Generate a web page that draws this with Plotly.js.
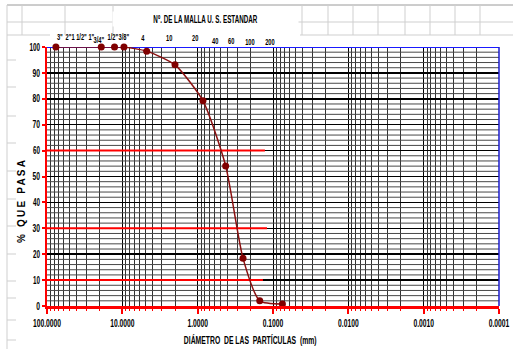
<!DOCTYPE html>
<html>
<head>
<meta charset="utf-8">
<script src="https://cdn.plot.ly/plotly-3.0.1.min.js"></script>
<style>html,body{margin:0;padding:0;background:#fff;}#chart{width:513px;height:349px;}</style>
</head>
<body>
<div id="chart"></div>
<script>
// Data: sieve openings (mm) and percent passing
var sieves = ['3"', '3/4"', '1/2"', '3/8"', 'N°4', 'N°10', 'N°20', 'N°40', 'N°60', 'N°100', 'N°200'];
var diameters = [76.2, 19.05, 12.7, 9.525, 4.75, 2.0, 0.85, 0.425, 0.25, 0.15, 0.075];
var percentPassing = [100, 100, 100, 100, 98.4, 93.1, 79.2, 54.1, 18.4, 2.0, 0.8];

// Reference lines (% passing) and their extents (mm)
var refLevels = [60, 30, 10];
var refEnds = [0.128, 0.120, 0.136];
var refStart = 100;

// Axis ticks
var xTickVals = [100, 10, 1, 0.1, 0.01, 0.001, 0.0001];
var xTickText = ['100.0000', '10.0000', '1.0000', '0.1000', '0.0100', '0.0010', '0.0001'];

// Sieve number labels on top
var topLabels = ['3"', '2"1 1/2" 1"', '3/4"', '1/2"', '3/8"', '4', '10', '20', '40', '60', '100', '200'];

var FONT = 'Liberation Sans, Arial, sans-serif';

// minor grid values
var minorX = [];
for (var e = -4; e < 2; e++) {
  for (var m = 2; m <= 9; m++) minorX.push(m * Math.pow(10, e));
}
var minorY = [];
for (var k = 1; k < 50; k++) { if (k % 5 !== 0) minorY.push(2 * k); }

var W = 513, H = 349, L = 47, R = 14, T = 47, B = 43;
var PW = W - L - R, PH = H - T - B;
function px(x) { return (x - L) / PW; }
function py(y) { return (H - B - y) / PH; }

var traces = [];
// minor horizontal grid (every 2 %), one line each
minorY.forEach(function (yv) {
  traces.push({x: [100, 0.0001], y: [yv, yv], mode: 'lines', type: 'scatter',
               line: {color: '#484848', width: 1}, hoverinfo: 'skip', showlegend: false});
});

refLevels.forEach(function (lv, i) {
  traces.push({
    x: [refStart, refEnds[i]], y: [lv, lv], mode: 'lines', type: 'scatter',
    line: {color: '#ff0000', width: 2}, hoverinfo: 'skip', showlegend: false, cliponaxis: false
  });
});
traces.push({
  x: [100, 0.0001], y: [100, 100], mode: 'lines', type: 'scatter',
  line: {color: '#1a1aff', width: 2}, hoverinfo: 'skip', showlegend: false, cliponaxis: false
});
traces.push({
  x: diameters, y: percentPassing, text: sieves, mode: 'lines+markers', type: 'scatter',
  line: {color: '#8b1010', width: 1.5, shape: 'spline', smoothing: 0.6},
  marker: {color: '#800000', size: 7, symbol: 'circle'},
  showlegend: false, cliponaxis: false
});

// top labels positions in pixels (annotation placement)
var labelPx = [60, 80, 99, 113, 124, 143, 169, 195, 215, 231, 250, 270];
var labelPy = [36, 36, 39, 36, 36, 37, 37, 37, 40.5, 40.5, 41.5, 41.5];

var annotations = [];
topLabels.forEach(function (t, i) {
  annotations.push({
    text: t, xref: 'paper', yref: 'paper', x: px(labelPx[i]), y: py(labelPy[i]),
    showarrow: false, xanchor: 'center', yanchor: 'middle',
    font: {family: FONT, size: 9.5, color: '#000', weight: 'bold'}
  });
});
annotations.push({
  text: 'Nº. DE LA MALLA U. S. ESTANDAR', xref: 'paper', yref: 'paper',
  x: px(205), y: py(19), showarrow: false, xanchor: 'center', yanchor: 'middle',
  bgcolor: '#ffffff',
  font: {family: FONT, size: 11, color: '#000', weight: 'bold'}
});
annotations.push({
  text: '% QUE PASA', xref: 'paper', yref: 'paper', x: px(22), y: py(201),
  textangle: -90, showarrow: false, xanchor: 'center', yanchor: 'middle',
  font: {family: FONT, size: 10, color: '#000', weight: 'bold'}
});
annotations.push({
  text: 'DIÁMETRO  DE LAS  PARTÍCULAS  (mm)', xref: 'paper', yref: 'paper', x: px(250), y: py(340),
  showarrow: false, xanchor: 'center', yanchor: 'middle',
  font: {family: FONT, size: 11, color: '#000', weight: 'bold'}
});

// spreadsheet-like background lines
var shapes = [];
var sheetCol = '#cfcfcf';
function hline(y, x0, x1) { shapes.push({type: 'line', xref: 'paper', yref: 'paper', x0: px(x0), x1: px(x1), y0: py(y), y1: py(y), line: {color: sheetCol, width: 1}, layer: 'below'}); }
function vline(x, y0, y1) { shapes.push({type: 'line', xref: 'paper', yref: 'paper', x0: px(x), x1: px(x), y0: py(y0), y1: py(y1), line: {color: sheetCol, width: 1}, layer: 'below'}); }
shapes.push({type: 'line', xref: 'paper', yref: 'paper', x0: px(7), x1: px(513), y0: py(5), y1: py(5), line: {color: '#9a9a9a', width: 1}, layer: 'below'});
vline(7, 5, 349);
hline(22, 7, 150); hline(22, 262, 513);
hline(35, 7, 50); hline(35, 300, 513);
[22, 65, 113, 302, 328, 353, 378, 405, 430, 455, 480].forEach(function (x) { vline(x, 5, 35); });
[60, 87, 116, 143, 171, 199, 226, 254, 281, 298, 320, 340].forEach(function (y) { hline(y, 7, 16); });
// right border of plot (blue)
shapes.push({type: 'line', xref: 'paper', yref: 'paper', x0: 1, x1: 1, y0: 0, y1: 1, line: {color: '#1a1acc', width: 1.5}});

var layout = {
  width: W, height: H,
  margin: {l: L, r: R, t: T, b: B, pad: 0},
  paper_bgcolor: '#ffffff', plot_bgcolor: 'rgba(0,0,0,0)',
  showlegend: false,
  xaxis: {
    type: 'log', range: [2.0002, -4.0002], autorange: false,
    tickmode: 'array', tickvals: xTickVals, ticktext: xTickText,
    ticks: 'outside', ticklen: 5, tickwidth: 2, tickcolor: '#ff0000',
    ticklabeloverflow: 'allow',
    showgrid: true, gridcolor: '#000000', gridwidth: 1,
    showline: true, linecolor: '#ff0000', linewidth: 3,
    zeroline: false,
    tickfont: {family: FONT, size: 10.5, color: '#000', weight: 'bold'},
    minor: {tickmode: 'array', tickvals: minorX, showgrid: true, gridcolor: '#333333', gridwidth: 1,
            ticks: 'outside', ticklen: 2, tickcolor: '#ff0000', tickwidth: 1}
  },
  yaxis: {
    range: [0, 100], autorange: false,
    tickmode: 'linear', tick0: 0, dtick: 10,
    ticks: 'outside', ticklen: 3, tickwidth: 2, tickcolor: '#ff0000',
    ticklabeloverflow: 'allow',
    showgrid: true, gridcolor: '#000000', gridwidth: 1.5,
    showline: true, linecolor: '#ff0000', linewidth: 2,
    zeroline: false,
    tickfont: {family: FONT, size: 10.5, color: '#000', weight: 'bold'}
  },
  shapes: shapes,
  annotations: annotations
};

// horizontally condense text (the reference uses a narrow font)
function condense(t, s) {
  var bb = t.getBBox();
  var anchor = t.getAttribute('text-anchor') || window.getComputedStyle(t).textAnchor || 'start';
  var ax = anchor === 'end' ? bb.x + bb.width : (anchor === 'middle' ? bb.x + bb.width / 2 : bb.x);
  var tr = t.getAttribute('transform') || '';
  t.setAttribute('transform', tr + ' translate(' + ax + ',0) scale(' + s + ',1) translate(' + (-ax) + ',0)');
}

Plotly.newPlot('chart', traces, layout, {displayModeBar: false, staticPlot: true}).then(function () {
  var texts = document.querySelectorAll('#chart svg text');
  texts.forEach(function (t) {
    var s = t.textContent;
    if (s === '% QUE PASA') { t.style.letterSpacing = '2.2px'; return; }
    if (topLabels.indexOf(s) >= 0) condense(t, 0.6);
    else if (s.indexOf('ESTANDAR') >= 0) condense(t, 0.57);
    else if (s.indexOf('DIÁMETRO') >= 0) condense(t, 0.62);
    else condense(t, 0.64);
  });
});
</script>
</body>
</html>
